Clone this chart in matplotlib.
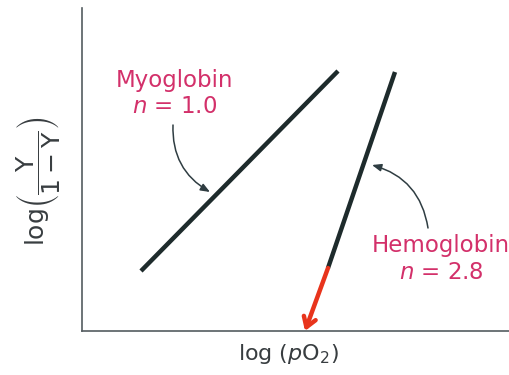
import matplotlib
matplotlib.use("Agg")
import matplotlib.pyplot as plt

plt.rcParams['font.family'] = ['DejaVu Sans']
plt.rcParams['mathtext.fontset'] = 'dejavusans'

# Data (arbitrary log units)
myo_x = [0.59, 2.56]
myo_y = [0.60, 2.60]
hb_x = [2.46, 3.13]
hb_y = [0.63, 2.59]
p50_start = (2.46, 0.63)
p50_end = (2.23, 0.0)

labels = ["Myoglobin\n$n$ = 1.0", "Hemoglobin\n$n$ = 2.8"]

line_color = '#1e2b2c'
label_color = '#d3306a'
arrow_color = '#2f3d42'
red = '#e8341c'
spine_color = '#545c60'
text_color = '#383d40'

fig = plt.figure(figsize=(5.09, 3.75), dpi=100)
ax = fig.add_axes([82/509, 44/375, 427/509, 323/375])
ax.set_xlim(0, 4.27)
ax.set_ylim(0, 3.23)
for s in ['top', 'right']:
    ax.spines[s].set_visible(False)
for s in ['left', 'bottom']:
    ax.spines[s].set_color(spine_color)
    ax.spines[s].set_linewidth(1.2)
ax.set_xticks([])
ax.set_yticks([])

ax.plot(myo_x, myo_y, color=line_color, lw=3.2, solid_capstyle='butt')
ax.plot(hb_x, hb_y, color=line_color, lw=3.2, solid_capstyle='butt')

ax.annotate('', xy=p50_end, xytext=p50_start,
            arrowprops=dict(arrowstyle='->,head_length=0.7,head_width=0.45',
                            color=red, lw=3.2, shrinkA=0, shrinkB=0),
            annotation_clip=False)

# Labels
ax.text(0.93, 2.375, labels[0], color=label_color, fontsize=16.5, ha='center', va='center',
        linespacing=1.2)
ax.text(3.59, 0.72, labels[1], color=label_color, fontsize=16.5, ha='center', va='center',
        linespacing=1.2, clip_on=False)

ax.annotate('', xy=(1.28, 1.39), xytext=(0.91, 2.06),
            arrowprops=dict(arrowstyle='-|>,head_length=0.55,head_width=0.22',
                            color=arrow_color, lw=1.1, shrinkA=0, shrinkB=0,
                            connectionstyle='arc3,rad=0.3'))
ax.annotate('', xy=(2.90, 1.66), xytext=(3.46, 1.03),
            arrowprops=dict(arrowstyle='-|>,head_length=0.55,head_width=0.22',
                            color=arrow_color, lw=1.1, shrinkA=0, shrinkB=0,
                            connectionstyle='arc3,rad=0.32'))

# Axis labels
fig.text(288/509, 1 - 354/375, r'log ($\mathit{p}$O$_2$)', fontsize=16, ha='center', va='center',
         color=text_color)
fig.text(38/509, 1 - 181/375, r'log$\left(\dfrac{\mathrm{Y}}{1-\mathrm{Y}}\right)$', fontsize=18,
         rotation=90, ha='center', va='center', color=text_color)

fig.savefig('out.png', dpi=100)
